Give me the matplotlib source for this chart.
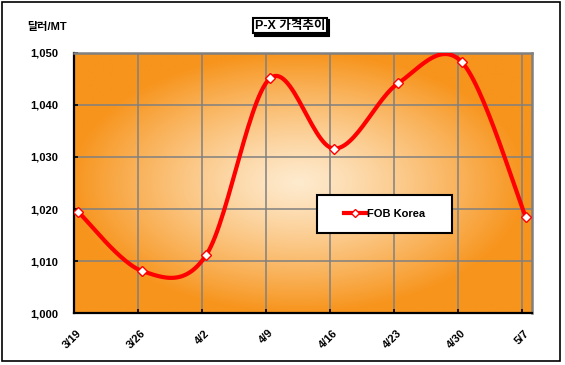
import matplotlib
matplotlib.use("Agg")
import matplotlib.pyplot as plt
import matplotlib.transforms as mtransforms
from matplotlib.patches import Rectangle
import numpy as np

# fonts: Arial-like for latin, Noto for hangul
plt.rcParams["font.family"] = ["Liberation Sans", "Noto Sans CJK KR"]
plt.rcParams["font.weight"] = "bold"

# chart data
WEEKS = ["3/19", "3/26", "4/2", "4/9", "4/16", "4/23", "4/30", "5/7"]
FOB_KOREA = [1019.4, 1008.1, 1011.2, 1045.1, 1031.6, 1044.1, 1048.2, 1018.5]
Y_TICKS = [1000, 1010, 1020, 1030, 1040, 1050]
SERIES_NAME = "FOB Korea"
TITLE = "P-X 가격추이"
UNIT = "달러/MT"

DATA_SHIFT = 0.065  # points sit a little right of the week gridlines


def smooth_curve(xs, ys, steps=30):
    # excel style smoothed line (catmull-rom bezier)
    pts = np.column_stack([xs, ys])
    n = len(pts)
    out = []
    for i in range(n - 1):
        p0 = pts[i - 1] if i > 0 else pts[i]
        p1 = pts[i]
        p2 = pts[i + 1]
        p3 = pts[i + 2] if i + 2 < n else pts[i + 1]
        c1 = p1 + (p2 - p0) / 6.0
        c2 = p2 - (p3 - p1) / 6.0
        t = np.linspace(0, 1, steps)[:, None]
        seg = ((1 - t) ** 3) * p1 + 3 * ((1 - t) ** 2) * t * c1 \
            + 3 * (1 - t) * t ** 2 * c2 + t ** 3 * p2
        out.append(seg if i == 0 else seg[1:])
    out = np.vstack(out)
    return out[:, 0], out[:, 1]


fig = plt.figure(figsize=(5.65, 3.65), dpi=100)
ax = fig.add_axes([0.1315, 0.1416, 0.8095, 0.714])

x_ticks = np.arange(len(WEEKS))
x_data = x_ticks + DATA_SHIFT
x_min, x_max = 0, 7.158
y_min, y_max = Y_TICKS[0], Y_TICKS[-1]

# radial orange background
gx, gy = np.meshgrid(np.linspace(0, 1, 400), np.linspace(0, 1, 260))
r = np.sqrt(((gx - 0.49) / 0.5) ** 2 + ((gy - 0.5) / 0.5) ** 2)
r = np.clip(r, 0, 1) ** 1.25
center = np.array([254, 234, 205]) / 255.0
edge = np.array([247, 148, 28]) / 255.0
img = center[None, None, :] + (edge - center)[None, None, :] * r[:, :, None]
ax.imshow(img, extent=[x_min, x_max, y_min, y_max], aspect="auto",
          origin="lower", zorder=0, interpolation="bilinear")

ax.set_xlim(x_min, x_max)
ax.set_ylim(y_min, y_max)
ax.set_axisbelow(True)
ax.grid(True, color="#808080", linewidth=1.1)

sx, sy = smooth_curve(x_data, FOB_KOREA)
ax.plot(sx, sy, color="red", linewidth=3, zorder=3, solid_capstyle="round")
ax.plot(x_data, FOB_KOREA, linestyle="none", marker="D", markersize=5,
        markerfacecolor="white", markeredgecolor="red", markeredgewidth=1,
        zorder=4)

# legend proxy
ax.plot([], [], color="red", linewidth=3, marker="D", markersize=4,
        markerfacecolor="white", markeredgecolor="red", label=SERIES_NAME)

ax.set_yticks(Y_TICKS)
ax.set_yticklabels(["{:,}".format(v) for v in Y_TICKS])
ax.set_xticks(x_ticks)
ax.set_xticklabels(WEEKS, rotation=45, ha="right", va="center",
                   rotation_mode="anchor")
ax.tick_params(axis="y", direction="in", length=3, width=1.2, pad=11.5,
               labelsize=8, colors="black")
ax.tick_params(axis="x", direction="in", length=3, width=1.2, pad=13,
               labelsize=8, colors="black")
shift = mtransforms.ScaledTranslation(6 / 100, 0, fig.dpi_scale_trans)
for lab in ax.get_xticklabels():
    lab.set_transform(lab.get_transform() + shift)

for side in ["left", "bottom"]:
    ax.spines[side].set_color("black")
    ax.spines[side].set_linewidth(1.6)
for side in ["top", "right"]:
    ax.spines[side].set_color("#808080")
    ax.spines[side].set_linewidth(1.8)

# legend box
lx0, lx1, ly0, ly1 = 0.531, 0.825, 0.307, 0.455
ax.add_patch(Rectangle((lx0, ly0), lx1 - lx0, ly1 - ly0, transform=ax.transAxes,
                       facecolor="white", edgecolor="black", linewidth=1.5,
                       zorder=5))
leg = ax.legend(loc="center", bbox_to_anchor=((lx0 + lx1) / 2, (ly0 + ly1) / 2),
                frameon=False, handlelength=2, handletextpad=0.1,
                numpoints=1, prop={"size": 8, "weight": "bold"})
leg.set_zorder(6)

# title in a box with a drop shadow
tx, ty = 0.513, 1 - 25.5 / 365
title = fig.text(tx, ty, TITLE, ha="center", va="center", fontsize=9,
                 fontweight="bold", color="black", zorder=10,
                 bbox=dict(boxstyle="square,pad=0.15", facecolor="white",
                           edgecolor="black", linewidth=1.5))
fig.canvas.draw()
bb = title.get_bbox_patch().get_window_extent()
bb = bb.transformed(fig.transFigure.inverted())
fig.patches.append(Rectangle((bb.x0 + 2.5 / 565, bb.y0 - 2.5 / 365),
                             bb.width, bb.height, transform=fig.transFigure,
                             facecolor="black", edgecolor="black",
                             linewidth=1.5, zorder=9))

fig.text(46.8 / 565, 1 - 27.3 / 365, UNIT, ha="center", va="center",
         fontsize=8, fontweight="bold")

# outer chart border
fig.patches.append(Rectangle((1.5 / 565, 1 - 361 / 365), 558.5 / 565, 359 / 365,
                             transform=fig.transFigure, fill=False,
                             edgecolor="black", linewidth=1.2))

fig.savefig("out.png", dpi=100)
